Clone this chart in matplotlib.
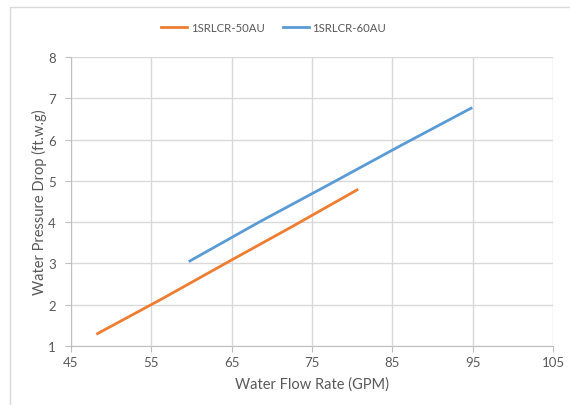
from matplotlib import pyplot as plt
from matplotlib.patches import Rectangle

# Water pressure drop curves
flow_50 = [48.3, 56.4, 64.5, 72.6, 80.6]
drop_50 = [1.30, 2.15, 3.03, 3.90, 4.78]

flow_60 = [59.8, 68.5, 77.3, 86.0, 94.8]
drop_60 = [3.06, 4.01, 4.93, 5.85, 6.76]

x_ticks = [45, 55, 65, 75, 85, 95, 105]
y_ticks = [1, 2, 3, 4, 5, 6, 7, 8]

plt.rcParams['font.family'] = ['Lato', 'DejaVu Sans']
text_color = '#595959'

fig = plt.figure(figsize=(5.7, 4.06), dpi=100)
ax = fig.add_axes([71 / 570, 1 - 347 / 406, (553 - 71) / 570, (347 - 58) / 406])

# outer chart frame
fig.patches.append(Rectangle((10 / 570, -0.1), 1.0, 1 - 8 / 406 + 0.1,
                             transform=fig.transFigure, fill=False,
                             edgecolor='#D9D9D9', linewidth=1))

ax.plot(flow_50, drop_50, color='#ED7D31', linewidth=2, label='1SRLCR-50AU')
ax.plot(flow_60, drop_60, color='#5B9BD5', linewidth=2, label='1SRLCR-60AU')

ax.set_xlim(45, 105)
ax.set_ylim(1, 8)
ax.set_xticks(x_ticks)
ax.set_yticks(y_ticks)
ax.grid(True, color='#D9D9D9', linewidth=1)
ax.set_axisbelow(True)

for side in ['top', 'right']:
    ax.spines[side].set_visible(False)
for side in ['left', 'bottom']:
    ax.spines[side].set_color('#BFBFBF')
ax.tick_params(colors='#BFBFBF', labelcolor=text_color, labelsize=9.5,
               length=4, direction='out')
ax.tick_params(axis='y', pad=7)

ax.set_xlabel('Water Flow Rate (GPM)', color=text_color, fontsize=10.5, labelpad=6)
ax.set_ylabel('Water Pressure Drop (ft.w.g)', color=text_color, fontsize=10.5, labelpad=1)

leg = fig.legend(loc='center', bbox_to_anchor=(0.48, 1 - 28 / 406), ncol=2,
                 frameon=False, fontsize=8.2, handlelength=2.3,
                 columnspacing=1.6, handletextpad=0.3)
for t in leg.get_texts():
    t.set_color(text_color)

fig.savefig('out.png', dpi=100)
